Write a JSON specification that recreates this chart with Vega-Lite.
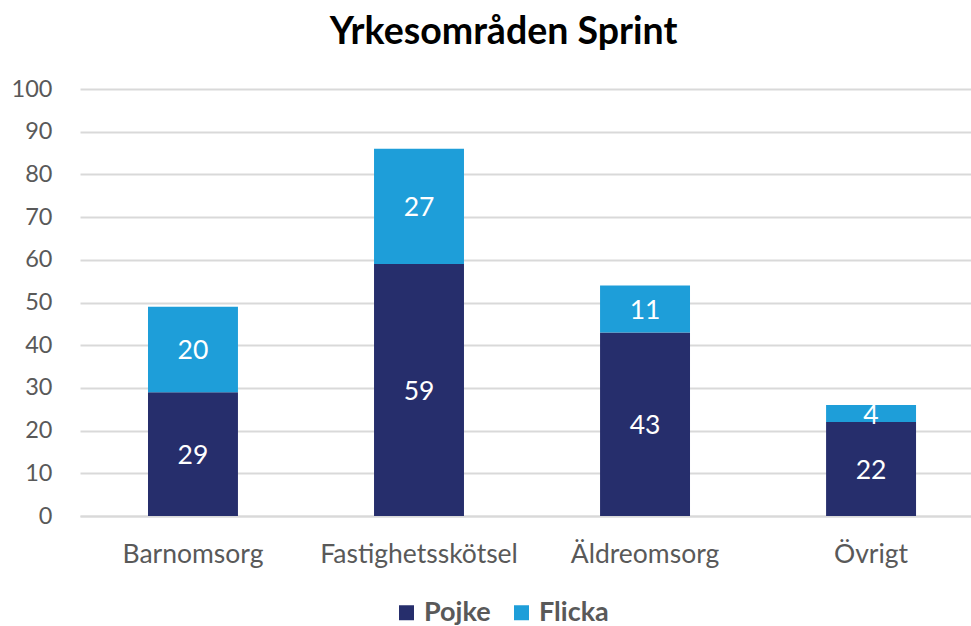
{
  "$schema": "https://vega.github.io/schema/vega-lite/v6.json",
  "autosize": {"type": "none"},
  "padding": {"left": 80, "top": 89, "right": 0, "bottom": 110},
  "width": 891,
  "height": 427,
  "background": "white",
  "config": {
    "font": "Lato",
    "view": {"stroke": null}
  },
  "title": {
    "text": "Yrkesområden Sprint",
    "fontSize": 37.5,
    "fontWeight": "bold",
    "color": "#000000",
    "font": "Lato",
    "anchor": "middle",
    "frame": "group",
    "baseline": "alphabetic",
    "offset": -4,
    "dx": -22
  },
  "data": {
    "values": [
      {"kategori": "Barnomsorg", "kon": "Pojke", "antal": 29, "ordning": 1},
      {"kategori": "Barnomsorg", "kon": "Flicka", "antal": 20, "ordning": 2},
      {"kategori": "Fastighetsskötsel", "kon": "Pojke", "antal": 59, "ordning": 1},
      {"kategori": "Fastighetsskötsel", "kon": "Flicka", "antal": 27, "ordning": 2},
      {"kategori": "Äldreomsorg", "kon": "Pojke", "antal": 43, "ordning": 1},
      {"kategori": "Äldreomsorg", "kon": "Flicka", "antal": 11, "ordning": 2},
      {"kategori": "Övrigt", "kon": "Pojke", "antal": 22, "ordning": 1},
      {"kategori": "Övrigt", "kon": "Flicka", "antal": 4, "ordning": 2}
    ]
  },
  "encoding": {
    "x": {
      "field": "kategori",
      "type": "nominal",
      "sort": ["Barnomsorg", "Fastighetsskötsel", "Äldreomsorg", "Övrigt"],
      "scale": {"paddingInner": 0.602, "paddingOuter": 0.272, "align": 0.553},
      "axis": {
        "title": null,
        "labelAngle": 0,
        "labelFontSize": 26.5,
        "labelLimit": 0,
        "labelColor": "#595959",
        "labelPadding": 25,
        "ticks": false,
        "domainColor": "#D9D9D9",
        "domainWidth": 2
      }
    },
    "y": {
      "field": "antal",
      "type": "quantitative",
      "stack": "zero",
      "scale": {"domain": [0, 100]},
      "axis": {
        "title": null,
        "values": [0, 10, 20, 30, 40, 50, 60, 70, 80, 90, 100],
        "labelFontSize": 23.5,
        "labelColor": "#595959",
        "labelPadding": 28,
        "ticks": false,
        "domain": false,
        "gridColor": "#D9D9D9",
        "gridWidth": 2
      }
    },
    "order": {"field": "ordning", "type": "quantitative"}
  },
  "layer": [
    {
      "mark": {"type": "bar"},
      "encoding": {
        "color": {
          "field": "kon",
          "type": "nominal",
          "sort": ["Pojke", "Flicka"],
          "scale": {"domain": ["Pojke", "Flicka"], "range": ["#262E6C", "#1E9ED9"]},
          "legend": {
            "title": null,
            "orient": "none",
            "direction": "horizontal",
            "legendX": 313,
            "legendY": 510,
            "symbolType": "square",
            "symbolSize": 225,
            "symbolStrokeWidth": 0,
            "labelFontSize": 27,
            "labelFontWeight": "bold",
            "labelColor": "#595959",
            "labelOffset": 4,
            "columnPadding": 17
          }
        }
      }
    },
    {
      "mark": {"type": "text", "color": "white", "fontSize": 26.5, "baseline": "middle", "dy": 2},
      "encoding": {
        "y": {"field": "antal", "type": "quantitative", "stack": "zero", "bandPosition": 0.5},
        "text": {"field": "antal", "type": "quantitative"}
      }
    }
  ]
}
